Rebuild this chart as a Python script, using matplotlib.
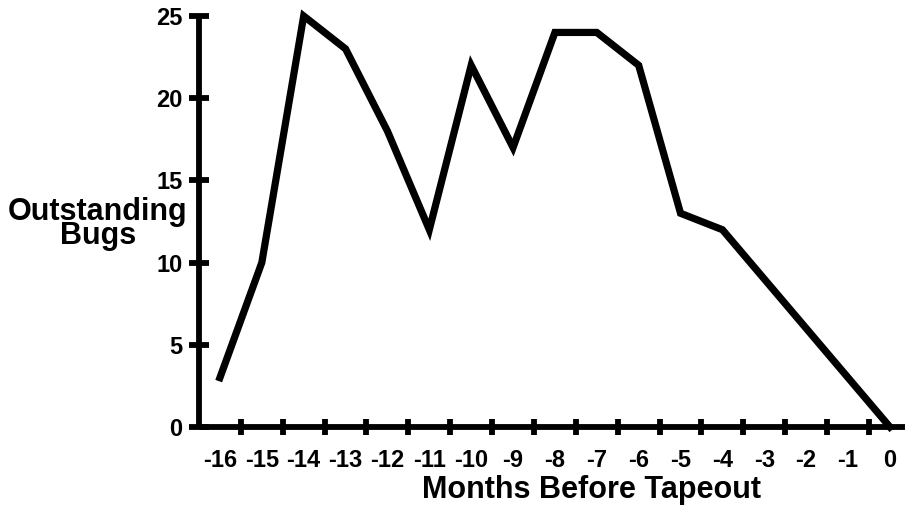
# Outstanding bugs by month before tapeout
import numpy as np
import matplotlib.pyplot as plt

plt.rcParams['font.family'] = ['Liberation Sans', 'DejaVu Sans']
plt.rcParams['font.weight'] = 'bold'

months = [-16, -15, -14, -13, -12, -11, -10, -9, -8, -7, -6, -5, -4, -3, -2, -1, 0]
bugs = [3, 10, 25, 23, 18, 12, 22, 17, 24, 24, 22, 13, 12, 9, 6, 3, 0]
y_ticks = [0, 5, 10, 15, 20, 25]

fig = plt.figure(figsize=(9.06, 5.08), dpi=100)
ax = fig.add_axes([199 / 906, 1 - 427 / 508, 706 / 906, 411 / 508])

ax.plot(months, bugs, color='black', linewidth=5.2, solid_joinstyle='miter',
        clip_on=False, zorder=3)

ax.set_xlim(-16.5, 0.36)
ax.set_ylim(0, 25)

for side in ['top', 'right']:
    ax.spines[side].set_visible(False)
for side in ['left', 'bottom']:
    ax.spines[side].set_linewidth(4.2)
    ax.spines[side].set_capstyle('butt')

# labels sit on the months, tick marks sit between them
ax.set_xticks(months)
ax.set_xticklabels([str(m) for m in months])
ax.set_xticks(np.arange(-15.5, 0, 1.0), minor=True)
ax.tick_params(axis='x', which='major', length=0, pad=16, labelsize=17)
ax.tick_params(axis='x', which='minor', direction='inout', length=12, width=4.2)

ax.set_yticks(y_ticks)
ax.tick_params(axis='y', direction='inout', length=14, width=4.2, pad=5, labelsize=17)
for lbl in ax.get_xticklabels() + ax.get_yticklabels():
    lbl.set_fontweight('bold')

fig.text(592 / 906, 1 - 490 / 508, "Months Before Tapeout", ha='center', va='center',
         fontsize=22, fontweight='bold')
fig.text(98 / 906, 1 - 224 / 508, "Outstanding\nBugs", ha='center', va='center',
         fontsize=22, fontweight='bold', linespacing=0.78)

fig.savefig('out.png', dpi=100)
